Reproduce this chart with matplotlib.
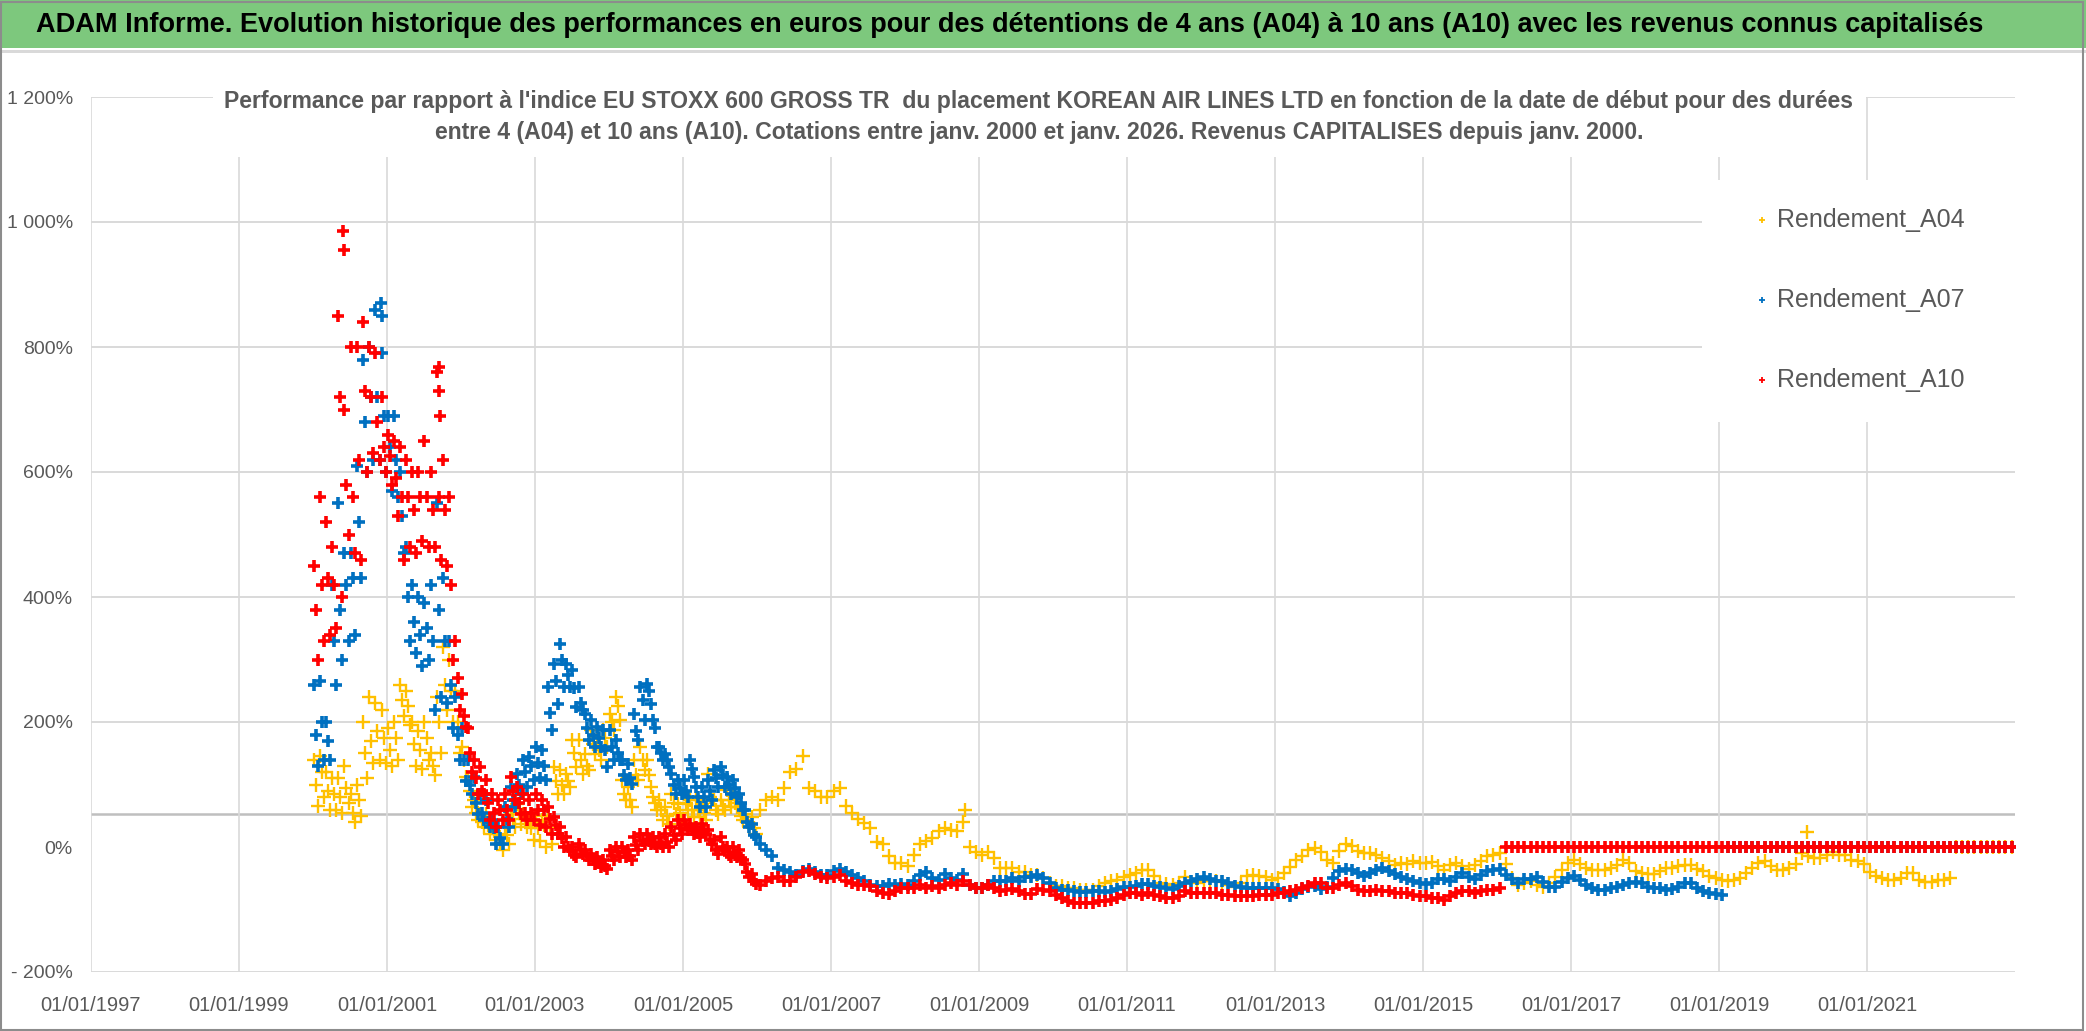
import matplotlib
matplotlib.use("Agg")
import matplotlib.pyplot as plt
import matplotlib.dates as mdates
from matplotlib.lines import Line2D
from matplotlib.patches import Rectangle
import pandas as pd

plt.rcParams["font.family"] = ["Liberation Sans", "DejaVu Sans"]

# monthly values (mid-month), janv. 2000 -> déc. 2022, in %
a04 = [
    100, 120, 90, 85, 80, 95, 55, 75, 150, 170, 185, 175,
    155, 175, 235, 225, 165, 155, 175, 130, 200, 260, 250, 200,
    140, 90, 55, 40, 35, 25, 5, 20, 45, 55, 45, 30,
    30, 35, 30, 105, 100, 105, 150, 140, 130, 165, 155, 175,
    200, 225, 85, 75, 115, 140, 115, 70, 60, 50, 70, 55,
    70, 60, 60, 55, 80, 60, 65, 75, 70, 50, 40, 30,
    60, 75, 80, 75, 95, 120, 125, 145, 95, 90, 80, 80,
    90, 95, 65, 55, 45, 38, 30, 8, 5, -15, -25, -25,
    -30, -12, 5, 10, 15, 25, 30, 28, 25, 40, 0, -8,
    -12, -8, -18, -33, -33, -33, -40, -40, -45, -45, -50, -57,
    -62, -63, -65, -66, -68, -69, -68, -62, -58, -55, -53, -48,
    -45, -41, -36, -36, -47, -57, -59, -61, -58, -48, -56, -58,
    -55, -54, -55, -56, -61, -64, -58, -47, -45, -47, -48, -53,
    -50, -42, -32, -20, -15, -5, -2, -8, -20, -26, -6, 5,
    2, -6, -9, -9, -12, -17, -23, -28, -25, -27, -23, -26,
    -26, -24, -31, -36, -29, -26, -31, -35, -29, -23, -15, -12,
    -10, -27, -50, -60, -58, -55, -60, -64, -58, -48, -36, -25,
    -21, -27, -33, -36, -36, -37, -34, -29, -21, -26, -38, -41,
    -43, -43, -38, -34, -34, -31, -29, -29, -35, -38, -46, -50,
    -53, -55, -53, -50, -42, -34, -26, -23, -31, -36, -36, -34,
    -27, -10, -15, -18, -18, -12, -8, -12, -12, -20, -22, -27,
    -40, -47, -50, -52, -53, -50, -42, -42, -52, -56, -56, -53,
    -53, -50, 0, 0, 0, 0, 0, 0, 0, 0, 0, 0,
]
a07 = [
    180, 200, 170, 330, 380, 420, 430, 520, 680, 720, 720, 690,
    640, 620, 530, 400, 360, 340, 350, 330, 380, 330, 260, 180,
    140, 100, 70, 55, 40, 30, 15, 45, 75, 100, 120, 130,
    135, 130, 215, 265, 300, 275, 255, 230, 190, 180, 175, 155,
    160, 150, 115, 110, 185, 235, 250, 190, 150, 140, 100, 95,
    90, 125, 80, 80, 90, 110, 115, 100, 95, 70, 40, 20,
    5, -5, -15, -34, -36, -40, -45, -38, -35, -40, -45, -45,
    -38, -35, -40, -45, -50, -55, -60, -62, -62, -59, -60, -59,
    -60, -55, -45, -40, -50, -52, -43, -50, -52, -43, -60, -65,
    -65, -60, -55, -55, -55, -50, -55, -48, -48, -45, -50, -58,
    -66, -68, -69, -71, -72, -72, -71, -71, -72, -70, -67, -64,
    -64, -62, -59, -59, -62, -64, -66, -67, -62, -57, -54, -51,
    -48, -51, -54, -54, -57, -62, -64, -66, -65, -65, -66, -65,
    -67, -72, -79, -74, -67, -64, -62, -67, -64, -50, -38, -35,
    -36, -42, -46, -42, -36, -34, -39, -43, -48, -51, -54, -57,
    -59, -58, -51, -51, -54, -48, -42, -48, -51, -45, -39, -36,
    -35, -44, -51, -57, -51, -51, -48, -56, -64, -64, -56, -50,
    -46, -52, -61, -66, -68, -68, -66, -64, -61, -58, -56, -58,
    -64, -66, -66, -68, -67, -64, -58, -58, -66, -71, -74, -75,
    -76, 0, 0, 0, 0, 0, 0, 0, 0, 0, 0, 0,
    0, 0, 0, 0, 0, 0, 0, 0, 0, 0, 0, 0,
    0, 0, 0, 0, 0, 0, 0, 0, 0, 0, 0, 0,
    0, 0, 0, 0, 0, 0, 0, 0, 0, 0, 0, 0,
]
a10 = [
    380, 420, 430, 420, 720, 580, 560, 620, 730, 720, 680, 640,
    625, 590, 560, 560, 540, 560, 560, 540, 560, 540, 420, 270,
    210, 150, 110, 90, 70, 55, 60, 60, 90, 70, 55, 55,
    60, 60, 45, 35, 15, 0, -12, -5, -15, -20, -25, -30,
    -14, -8, -8, -14, 3, 10, 10, 5, 5, 8, 20, 30,
    35, 28, 22, 28, 12, -5, 0, -12, -12, -18, -40, -55,
    -60, -55, -50, -48, -55, -55, -48, -40, -38, -43, -48, -50,
    -48, -45, -55, -57, -60, -60, -63, -70, -73, -75, -70, -66,
    -66, -66, -60, -66, -63, -66, -60, -57, -60, -55, -60, -66,
    -66, -60, -66, -70, -69, -67, -70, -75, -75, -67, -69, -70,
    -76, -82, -87, -90, -90, -90, -90, -87, -87, -84, -81, -76,
    -74, -74, -76, -74, -76, -79, -81, -82, -79, -70, -74, -74,
    -74, -74, -74, -76, -76, -79, -79, -79, -79, -76, -76, -76,
    -74, -74, -71, -68, -65, -62, -57, -57, -65, -65, -60, -57,
    -62, -68, -71, -71, -68, -71, -71, -74, -74, -74, -76, -79,
    -79, -82, -82, -84, -79, -74, -71, -71, -74, -71, -68, -68,
    -65, 0, 0, 0, 0, 0, 0, 0, 0, 0, 0, 0,
    0, 0, 0, 0, 0, 0, 0, 0, 0, 0, 0, 0,
    0, 0, 0, 0, 0, 0, 0, 0, 0, 0, 0, 0,
    0, 0, 0, 0, 0, 0, 0, 0, 0, 0, 0, 0,
    0, 0, 0, 0, 0, 0, 0, 0, 0, 0, 0, 0,
    0, 0, 0, 0, 0, 0, 0, 0, 0, 0, 0, 0,
    0, 0, 0, 0, 0, 0, 0, 0, 0, 0, 0, 0,
]

# spread of the points 2000-2005 (high early in month, low late in month)
a04_hi = [140, 145, 120, 110, 110, 130, 85, 100, 200, 240, 230, 220,
          190, 200, 260, 250, 200, 185, 200, 150, 240, 320, 300, 250,
          160, 107, 75, 53, 53, 43, 21, 32, 53, 69, 53, 43,
          50, 43, 50, 128, 123, 117, 171, 171, 149, 187, 176, 187,
          213, 240, 107, 96, 139, 160, 139, 80, 75, 64, 85, 69,
          85, 75, 75, 69, 117, 75, 75, 91, 85, 64, 53, 48]
a04_lo = [65, 80, 60, 60, 55, 70, 40, 50, 110, 135, 140, 135,
          130, 140, 210, 195, 130, 125, 140, 115, 150, 220, 200, 150,
          112, 64, 43, 32, 21, 11, -5, 5, 32, 37, 32, 11,
          10, 0, 5, 85, 85, 96, 128, 117, 123, 149, 139, 160,
          187, 203, 75, 64, 107, 123, 96, 59, 43, 37, 53, 43,
          59, 48, 48, 43, 75, 53, 59, 64, 64, 43, 32, 21]
a07_hi = [260, 265, 200, 420, 550, 470, 470, 610, 780, 800, 860, 790,
          690, 690, 600, 480, 420, 400, 390, 420, 550, 430, 330, 240,
          190, 139, 112, 85, 75, 43, 32, 64, 96, 117, 139, 144,
          160, 155, 256, 293, 325, 293, 283, 256, 213, 203, 192, 187,
          187, 171, 139, 133, 213, 256, 261, 203, 160, 149, 117, 107,
          107, 139, 96, 96, 107, 123, 128, 112, 107, 85, 59, 37]
a07_lo = [130, 140, 140, 260, 300, 330, 340, 430, 600, 620, 620, 600,
          570, 560, 470, 330, 310, 290, 300, 220, 240, 230, 190, 140,
          105, 85, 53, 43, 32, 5, 5, 32, 64, 85, 96, 107,
          110, 107, 187, 229, 256, 256, 224, 219, 171, 160, 160, 128,
          139, 139, 107, 101, 171, 203, 229, 160, 139, 128, 85, 85,
          80, 112, 64, 64, 75, 96, 96, 85, 80, 59, 32, 16]
a10_hi = [450, 560, 520, 480, 850, 700, 800, 800, 840, 800, 790, 720,
          660, 650, 640, 620, 600, 600, 650, 600, 760, 620, 560, 330,
          245, 190, 139, 128, 107, 85, 75, 85, 112, 96, 85, 75,
          85, 75, 64, 48, 32, 16, 0, 5, -5, -11, -16, -21,
          -5, 0, 0, -5, 16, 21, 21, 16, 16, 21, 32, 43,
          43, 37, 32, 37, 27, 11, 16, 0, 0, -5, -27, -43]
a10_lo = [300, 330, 340, 350, 400, 500, 470, 460, 600, 630, 620, 600,
          580, 530, 460, 480, 470, 490, 480, 480, 460, 450, 300, 220,
          192, 120, 85, 85, 43, 32, 43, 43, 75, 53, 43, 43,
          35, 32, 21, 21, 0, -5, -16, -11, -21, -27, -32, -35,
          -21, -16, -16, -21, -5, 5, 5, 0, 0, 0, 11, 21,
          27, 21, 16, 21, 5, -11, -5, -16, -16, -21, -48, -59]

# isolated points
a10_extra_dates = ["2000-05-28", "2000-06-02", "2001-09-14", "2001-09-16", "2001-09-18"]
a10_extra_vals = [985, 956, 768, 730, 690]
a07_extra_dates = ["2000-12-03", "2000-12-06"]
a07_extra_vals = [870, 850]
a04_extra_dates = ["2008-10-25", "2020-03-10"]
a04_extra_vals = [59, 24]

ref_level = 53

labels = ["Rendement_A04", "Rendement_A07", "Rendement_A10"]
colors = ["#FFC000", "#0070C0", "#FF0000"]

title = ("ADAM Informe. Evolution historique des performances en euros pour des "
         "détentions de 4 ans (A04) à 10 ans (A10) avec les revenus connus capitalisés")
subtitle = ("Performance par rapport à l'indice EU STOXX 600 GROSS TR  du placement "
            "KOREAN AIR LINES LTD en fonction de la date de début pour des durées\n"
            "entre 4 (A04) et 10 ans (A10). Cotations entre janv. 2000 et janv. 2026. "
            "Revenus CAPITALISES depuis janv. 2000.")


def fit_width(fig, t, target_px):
    # scale the font so the text is as wide as in the reference
    r = fig.canvas.get_renderer()
    w = t.get_window_extent(renderer=r).width
    t.set_fontsize(t.get_fontsize() * target_px / w)


def main():
    W, H = 2086, 1031
    fig = plt.figure(figsize=(W / 100, H / 100), dpi=100)
    fig.patch.set_facecolor("white")

    months = pd.date_range("2000-01-01", periods=len(a04), freq="MS")
    mid = months + pd.Timedelta(days=14)
    early = months[:len(a04_hi)]
    hi_d = early + pd.Timedelta(days=4)
    lo_d = early + pd.Timedelta(days=24)

    ax = fig.add_axes([91 / W, 1 - 972 / H, (2015 - 91) / W, (972 - 97) / H])
    ax.set_xlim(pd.Timestamp("1997-01-01"), pd.Timestamp("2023-01-01"))
    ax.set_ylim(-200, 1200)

    series = [
        (a04, a04_hi, a04_lo, a04_extra_dates, a04_extra_vals, 10, 1.7),
        (a07, a07_hi, a07_lo, a07_extra_dates, a07_extra_vals, 9, 2.6),
        (a10, a10_hi, a10_lo, a10_extra_dates, a10_extra_vals, 9, 2.6),
    ]
    for i, (vals, hi, lo, ed, ev, ms, mew) in enumerate(series):
        kw = dict(ls="none", marker="+", ms=ms, mew=mew, color=colors[i], zorder=3 + i)
        ax.plot(mid, vals, **kw)
        ax.plot(hi_d, hi, **kw)
        ax.plot(lo_d, lo, **kw)
        ax.plot(pd.to_datetime(ed), ev, **kw)

    # grid
    grid_c = "#D9D9D9"
    for v in range(-200, 1201, 200):
        if v != 0:
            ax.axhline(v, color=grid_c, lw=1.4, zorder=1)
    ax.axhline(ref_level, color="#BFBFBF", lw=1.8, zorder=1)
    xt = pd.date_range("1997-01-01", "2021-01-01", freq="2YS")
    for d in xt:
        ax.axvline(d, color=grid_c, lw=1.2, zorder=1)
    for s in ax.spines.values():
        s.set_visible(False)

    ax.set_yticks(range(-200, 1201, 200))

    def pct(v):
        s = f"{abs(v):,.0f}".replace(",", " ") + "%"
        return "- " + s if v < 0 else s

    ax.set_yticklabels([pct(v) for v in range(-200, 1201, 200)])
    ax.set_xticks(xt)
    ax.xaxis.set_major_formatter(mdates.DateFormatter("%d/%m/%Y"))
    ax.tick_params(axis="y", length=0, pad=13, labelsize=14, labelcolor="#595959")
    ax.tick_params(axis="x", length=0, pad=17, labelsize=14.5, labelcolor="#595959")

    # title bar
    fig.patches.append(Rectangle((0, 1 - 48 / H), 1, 48 / H, transform=fig.transFigure,
                                 facecolor="#7DC87D", edgecolor="none", zorder=1))
    fig.patches.append(Rectangle((0, 1 - 53 / H), 1, 3 / H, transform=fig.transFigure,
                                 facecolor="#D9D9D9", edgecolor="none", zorder=1))
    t = fig.text(1010 / W, 1 - 25 / H, title, ha="center", va="center",
                 fontsize=20, fontweight="bold", color="black", zorder=3)
    fit_width(fig, t, 1951)

    # subtitle on white box
    fig.patches.append(Rectangle((213 / W, 1 - 157 / H), (1866 - 213) / W, (157 - 70) / H,
                                 transform=fig.transFigure, facecolor="white",
                                 edgecolor="none", zorder=1))
    t = fig.text(1039 / W, 1 - 117 / H, subtitle, ha="center", va="center",
                 multialignment="center", linespacing=1.45, fontsize=16,
                 fontweight="bold", color="#595959", zorder=3)
    fit_width(fig, t, 1637)

    # legend
    fig.patches.append(Rectangle((1702 / W, 1 - 422 / H), (2015 - 1702) / W, (422 - 180) / H,
                                 transform=fig.transFigure, facecolor="white",
                                 edgecolor="none", zorder=1))
    size = None
    for i, lab in enumerate(labels):
        y = 1 - (220 + 80 * i) / H
        fig.add_artist(Line2D([1762 / W], [y], transform=fig.transFigure, ls="none",
                              marker="+", ms=5, mew=1.3, color=colors[i], zorder=3))
        t = fig.text(1777 / W, y, lab, ha="left", va="center", fontsize=17,
                     color="#595959", zorder=3)
        if size is None:
            fit_width(fig, t, 188)
            size = t.get_fontsize()
        t.set_fontsize(size)

    # outer frame
    fig.patches.append(Rectangle((1 / W, 1 / H), (W - 4) / W, (H - 3) / H,
                                 transform=fig.transFigure, facecolor="none",
                                 edgecolor="#8C8C8C", lw=1.5, zorder=4))

    fig.savefig("out.png", dpi=100)


if __name__ == "__main__":
    main()
